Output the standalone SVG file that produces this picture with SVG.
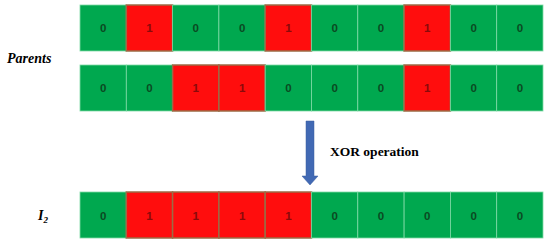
<svg xmlns="http://www.w3.org/2000/svg" width="550" height="244" viewBox="0 0 550 244">
<style>
.g{fill:#00A84F;stroke:#7FD9A6;stroke-width:0.8}
.r{fill:#FF0D0D;stroke:#9C6B45;stroke-width:1.5}
.t0{font-family:'Liberation Sans',Arial,sans-serif;font-weight:bold;font-size:11.5px;fill:#0B4A22;text-anchor:middle}
.t1{font-family:'Liberation Sans',Arial,sans-serif;font-weight:bold;font-size:11.5px;fill:#8A0A0A;text-anchor:middle}
.lbl{font-family:'Liberation Serif','DejaVu Serif','Times New Roman',serif;font-weight:bold;font-style:italic;font-size:14px;fill:#000}
.op{font-family:'Liberation Serif','DejaVu Serif','Times New Roman',serif;font-weight:bold;font-size:13.5px;fill:#000}
</style>
<rect width="550" height="244" fill="#fff"/>
<g id="parent1">
<rect class="g" x="80" y="5" width="46.3" height="46"/><text class="t0" x="103.2" y="32">0</text>
<rect class="r" x="126.3" y="5" width="46.3" height="46"/><text class="t1" x="149.5" y="32">1</text>
<rect class="g" x="172.6" y="5" width="46.3" height="46"/><text class="t0" x="195.8" y="32">0</text>
<rect class="g" x="218.9" y="5" width="46.3" height="46"/><text class="t0" x="242.1" y="32">0</text>
<rect class="r" x="265.2" y="5" width="46.3" height="46"/><text class="t1" x="288.4" y="32">1</text>
<rect class="g" x="311.5" y="5" width="46.3" height="46"/><text class="t0" x="334.7" y="32">0</text>
<rect class="g" x="357.8" y="5" width="46.3" height="46"/><text class="t0" x="381" y="32">0</text>
<rect class="r" x="404.1" y="5" width="46.3" height="46"/><text class="t1" x="427.3" y="32">1</text>
<rect class="g" x="450.4" y="5" width="46.3" height="46"/><text class="t0" x="473.6" y="32">0</text>
<rect class="g" x="496.7" y="5" width="46.3" height="46"/><text class="t0" x="519.9" y="32">0</text>
</g>
<g id="parent2">
<rect class="g" x="80" y="65" width="46.3" height="46"/><text class="t0" x="103.2" y="92">0</text>
<rect class="g" x="126.3" y="65" width="46.3" height="46"/><text class="t0" x="149.5" y="92">0</text>
<rect class="r" x="172.6" y="65" width="46.3" height="46"/><text class="t1" x="195.8" y="92">1</text>
<rect class="r" x="218.9" y="65" width="46.3" height="46"/><text class="t1" x="242.1" y="92">1</text>
<rect class="g" x="265.2" y="65" width="46.3" height="46"/><text class="t0" x="288.4" y="92">0</text>
<rect class="g" x="311.5" y="65" width="46.3" height="46"/><text class="t0" x="334.7" y="92">0</text>
<rect class="g" x="357.8" y="65" width="46.3" height="46"/><text class="t0" x="381" y="92">0</text>
<rect class="r" x="404.1" y="65" width="46.3" height="46"/><text class="t1" x="427.3" y="92">1</text>
<rect class="g" x="450.4" y="65" width="46.3" height="46"/><text class="t0" x="473.6" y="92">0</text>
<rect class="g" x="496.7" y="65" width="46.3" height="46"/><text class="t0" x="519.9" y="92">0</text>
</g>
<g id="offspring">
<rect class="g" x="80" y="192" width="46.3" height="46"/><text class="t0" x="103.2" y="220">0</text>
<rect class="r" x="126.3" y="192" width="46.3" height="46"/><text class="t1" x="149.5" y="220">1</text>
<rect class="r" x="172.6" y="192" width="46.3" height="46"/><text class="t1" x="195.8" y="220">1</text>
<rect class="r" x="218.9" y="192" width="46.3" height="46"/><text class="t1" x="242.1" y="220">1</text>
<rect class="r" x="265.2" y="192" width="46.3" height="46"/><text class="t1" x="288.4" y="220">1</text>
<rect class="g" x="311.5" y="192" width="46.3" height="46"/><text class="t0" x="334.7" y="220">0</text>
<rect class="g" x="357.8" y="192" width="46.3" height="46"/><text class="t0" x="381" y="220">0</text>
<rect class="g" x="404.1" y="192" width="46.3" height="46"/><text class="t0" x="427.3" y="220">0</text>
<rect class="g" x="450.4" y="192" width="46.3" height="46"/><text class="t0" x="473.6" y="220">0</text>
<rect class="g" x="496.7" y="192" width="46.3" height="46"/><text class="t0" x="519.9" y="220">0</text>
</g>
<g id="label-parents"><text class="lbl" x="7" y="63">Parents</text></g>
<g id="label-i2"><text class="lbl" x="38" y="220">I<tspan font-size="9" dy="3">2</tspan></text></g>
<g id="connectors">
<polygon points="306,121 314,121 314,176 318,176 310,185 302,176 306,176" fill="#4169B4" stroke="#3A5E9E" stroke-width="0.5"/>
<text class="op" x="330" y="156">XOR operation</text>
</g>
</svg>
